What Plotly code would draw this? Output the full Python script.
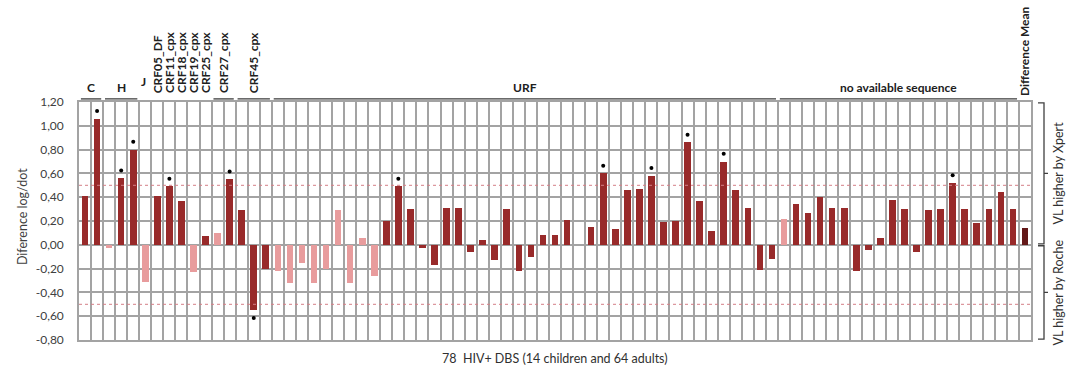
import plotly.graph_objects as go

# Subtype groups (in column order) and number of samples in each
groups = ["C", "H", "J", "CRF05_DF", "CRF11_cpx", "CRF18_cpx", "CRF19_cpx",
          "CRF25_cpx", "CRF27_cpx", "CRF45_cpx", "URF", "no available sequence"]
group_sizes = [2, 3, 1, 1, 1, 1, 1, 1, 2, 3, 42, 20]

# Viral load difference (log copies/dot), Xpert minus Roche, one per DBS sample
differences = [
    0.41, 1.06, -0.03, 0.56, 0.80, -0.31, 0.41, 0.49, 0.37, -0.23,
    0.07, 0.10, 0.55, 0.29, -0.55, -0.20, -0.22, -0.32, -0.15, -0.32,
    -0.20, 0.29, -0.32, 0.06, -0.26, 0.20, 0.49, 0.30, -0.03, -0.17,
    0.31, 0.31, -0.06, 0.04, -0.13, 0.30, -0.22, -0.10, 0.08, 0.08,
    0.21, 0.00, 0.15, 0.60, 0.13, 0.46, 0.47, 0.58, 0.19, 0.20,
    0.86, 0.37, 0.12, 0.70, 0.46, 0.31, -0.21, -0.12, 0.22, 0.34,
    0.27, 0.40, 0.31, 0.31, -0.22, -0.04, 0.06, 0.38, 0.30, -0.06,
    0.29, 0.30, 0.52, 0.30, 0.18, 0.30, 0.44, 0.30,
]
difference_mean = 0.14

# Samples from children (lighter bars) and samples flagged as significant
children = [2, 5, 9, 11, 16, 17, 18, 19, 20, 21, 22, 23, 24, 58]
significant = [1, 3, 4, 7, 12, 14, 26, 43, 47, 50, 53, 72]

limit = 0.5
y_ticks = [1.2, 1.0, 0.8, 0.6, 0.4, 0.2, 0.0, -0.2, -0.4, -0.6, -0.8]

DARK = "#982a2a"
LIGHT = "#e89c9d"
MEAN = "#631818"
GRID = "#a3a3a3"
FONT = "Lato, 'Open Sans', sans-serif"

n = len(differences)
ncols = n + 1
y_min, y_max = -0.8, 1.2

fig = go.Figure()

colors = [LIGHT if i in children else DARK for i in range(n)]
fig.add_trace(go.Bar(x=list(range(n)), y=differences, marker_color=colors,
                     marker_line_width=0, width=0.55, showlegend=False))
fig.add_trace(go.Bar(x=[n], y=[difference_mean], marker_color=MEAN,
                     marker_line_width=0, width=0.55, showlegend=False))

# significance dots just beyond the bar end
star_y = [differences[i] + (0.065 if differences[i] >= 0 else -0.065) for i in significant]
fig.add_trace(go.Scatter(x=significant, y=star_y, mode="markers",
                         marker=dict(color="black", size=4), showlegend=False,
                         cliponaxis=False))

# +/- 0.5 log limits
for lv in (limit, -limit):
    fig.add_trace(go.Scatter(x=[-0.5, n + 0.5], y=[lv, lv], mode="lines",
                             line=dict(color="#d47f86", width=1, dash="dot"),
                             showlegend=False, hoverinfo="skip"))

fig.update_layout(
    width=1072, height=370,
    margin=dict(l=79, r=41, t=102, b=30),
    paper_bgcolor="white", plot_bgcolor="white",
    font=dict(family=FONT, color="#404040", size=12),
    bargap=0,
)

fig.update_xaxes(
    range=[-0.5, n + 0.5],
    tickvals=[i - 0.5 for i in range(ncols + 1)],
    showticklabels=False, ticks="",
    showgrid=True, gridcolor=GRID, gridwidth=1.6,
    showline=True, linecolor=GRID, linewidth=1.6, mirror=True,
    zeroline=False,
)
fig.update_yaxes(
    range=[y_min, y_max],
    tickvals=y_ticks,
    ticktext=[f"{v:.2f}".replace(".", ",") for v in y_ticks],
    tickfont=dict(size=12, color="#404040", family=FONT),
    ticklabelstandoff=11,
    showgrid=True, gridcolor=GRID, gridwidth=1.6,
    zeroline=True, zerolinecolor=GRID, zerolinewidth=1.6,
    showline=True, linecolor=GRID, linewidth=1.6, mirror=True,
)


def px(col):
    """paper x for a column position"""
    return (col + 0.5) / ncols


def py(v):
    return (v - y_min) / (y_max - y_min)


annotations = []
shapes = []

# group brackets and labels above the plot
rotated = {"CRF05_DF", "CRF11_cpx", "CRF18_cpx", "CRF19_cpx", "CRF25_cpx",
           "CRF27_cpx", "CRF45_cpx"}
lined = {"C", "H", "CRF27_cpx", "CRF45_cpx", "URF", "no available sequence"}
start = 0
for name, size in zip(groups, group_sizes):
    first, last = start, start + size - 1
    center = (first + last) / 2
    if name in lined:
        shapes.append(dict(type="line", xref="paper", yref="paper",
                           x0=px(first - 0.5) + 0.002, x1=px(last + 0.5) - 0.002,
                           y0=1.013, y1=1.013,
                           line=dict(color="#3a3a3a", width=1.3)))
    if name in rotated:
        annotations.append(dict(text=f"<b>{name}</b>", x=px(center), y=1, xref="paper",
                                yref="paper", textangle=-90, showarrow=False,
                                xanchor="center", yanchor="bottom", yshift=7,
                                font=dict(size=12, color="#202020")))
    elif name == "J":
        annotations.append(dict(text=f"<b>{name}</b>", x=px(center) - 0.002, y=1,
                                xref="paper", yref="paper", showarrow=False,
                                xanchor="center", yanchor="bottom", yshift=11,
                                font=dict(size=12, color="#202020")))
    else:
        annotations.append(dict(text=f"<b>{name}</b>", x=px(center), y=1, xref="paper",
                                yref="paper", showarrow=False, xanchor="center",
                                yanchor="bottom", yshift=5,
                                font=dict(size=12, color="#202020")))
    start += size

annotations.append(dict(text="<b>Difference Mean</b>", x=px(n) - 0.001, y=1,
                        xref="paper", yref="paper", textangle=-90, showarrow=False,
                        xanchor="center", yanchor="bottom", yshift=4,
                        font=dict(size=12, color="#202020")))

# axis titles
annotations.append(dict(text="Diference log/dot", x=-0.07, y=0.52, xref="paper",
                        yref="paper", textangle=-90, showarrow=False,
                        font=dict(size=12.5, color="#404040")))
annotations.append(dict(text="78  HIV+ DBS (14 children and 64 adults)", x=0.5, y=0,
                        xref="paper", yref="paper", showarrow=False,
                        yanchor="top", yshift=-9,
                        font=dict(size=12.5, color="#303030")))

# right-hand braces with their captions
bx = 1 + 13 / 952
hook = 6 / 952
tip = 4 / 952
for lo, hi, label, gap in ((0.0, y_max, "VL higher by Xpert", 0.004),
                           (y_min, 0.0, "VL higher by Roche", 0.004)):
    y0, y1 = py(lo) + gap, py(hi) - gap
    ym = (y0 + y1) / 2
    path = (f"M {bx - hook},{y1} L {bx},{y1} L {bx},{y0} L {bx - hook},{y0} "
            f"M {bx},{ym} L {bx + tip},{ym}")
    shapes.append(dict(type="path", xref="paper", yref="paper", path=path,
                       line=dict(color="#404040", width=1.3)))
    annotations.append(dict(text=label, x=1 + 27 / 952, y=ym, xref="paper",
                            yref="paper", textangle=-90, showarrow=False,
                            xanchor="center", yanchor="middle",
                            font=dict(size=12.5, color="#303030")))

fig.update_layout(annotations=annotations, shapes=shapes)

fig.write_html("out.html")
